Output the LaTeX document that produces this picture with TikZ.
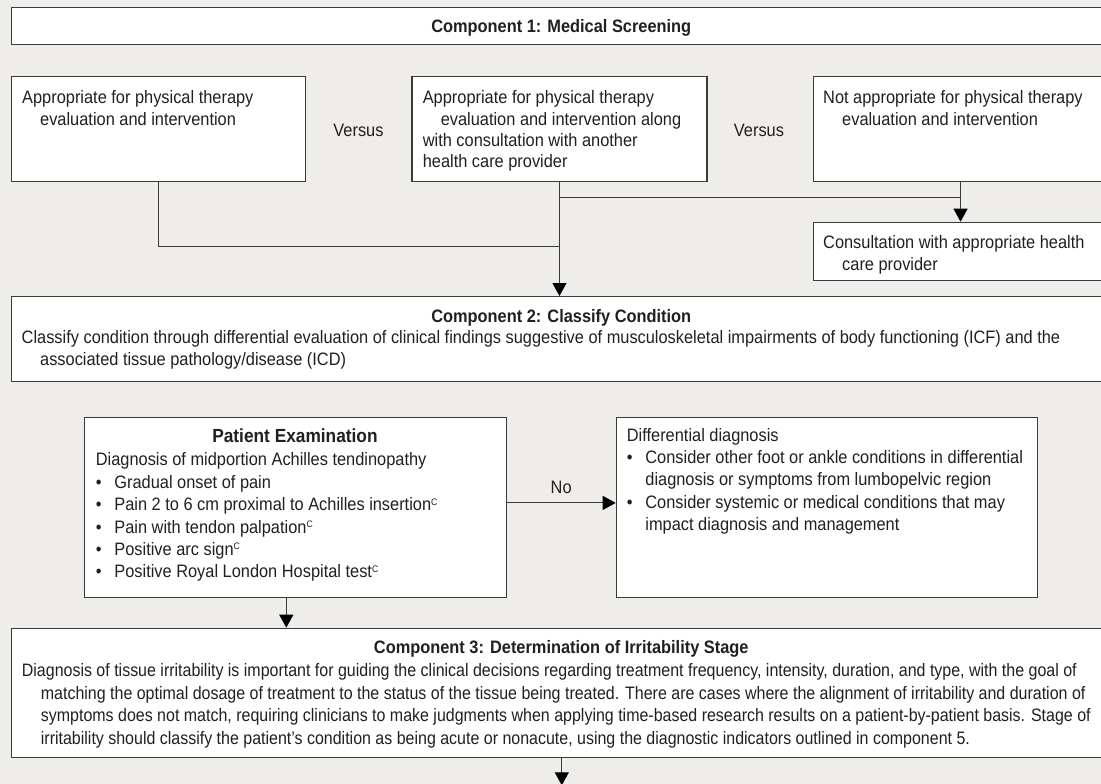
\documentclass[tikz,border=0pt]{standalone}
\usepackage{fontspec}
\setmainfont{Liberation Sans}[FakeStretch=0.91]
\newfontfamily\narrowsans{Liberation Sans}[FakeStretch=0.888]
\usetikzlibrary{arrows.meta}
\definecolor{bgcol}{RGB}{238,237,233}
\definecolor{linecol}{RGB}{58,58,58}
\definecolor{txtcol}{RGB}{35,31,32}
\newcommand{\blt}{\makebox[18.5pt][l]{\textbullet}}
\newcommand{\hind}{\hspace*{18pt}}
\newcommand{\supC}{\raisebox{5.5pt}{\fontsize{9.5}{9.5}\selectfont C}}

\begin{document}
\begin{tikzpicture}[x=1pt, y=-1pt,
  box/.style={draw=linecol, line width=1.1pt, fill=white, inner sep=0, anchor=north west},
  txt/.style={anchor=north west, inner sep=0, align=left, text=txtcol, font=\fontsize{18}{22.4}\selectfont},
  ttl/.style={anchor=base, inner sep=0, text=txtcol, font=\fontsize{18}{22}\selectfont\bfseries},
  ln/.style={draw=linecol, line width=1.1pt},
  arr/.style={ln, -{Triangle[length=13pt, width=14pt, color=black]}}]
\useasboundingbox (0,0) rectangle (1101,784);
\clip (0,0) rectangle (1101,784);
\fill[bgcol] (0,0) rectangle (1101,784);

% component 1
\node[box, minimum width=1101.5pt, minimum height=37pt] (comp1) at (10.5,7.3) {};
\node[ttl] (ttl1) at (561.25,33) {Component 1: Medical Screening};

\node[box, minimum width=294.5pt, minimum height=105.3pt] (scrA) at (10.5,75.7) {};
\node[box, minimum width=295pt, minimum height=105.3pt] (scrB) at (411.4,75.7) {};
\node[box, minimum width=294.4pt, minimum height=105.3pt] (scrC) at (812.8,75.7) {};
\node[box, minimum width=294.4pt, minimum height=58.3pt] (scrD) at (812.8,221.7) {};
\node[txt, font=\fontsize{18}{21.3}\selectfont] (txtA) at (22,90.5)
  {Appropriate for physical therapy\\\hind evaluation and intervention};
\node[txt, font=\fontsize{18}{21.3}\selectfont] (txtB) at (422.6,90.5)
  {Appropriate for physical therapy\\\hind evaluation and intervention along\\with consultation with another\\health care provider};
\node[txt, font=\fontsize{18}{21.3}\selectfont] (txtC) at (823,90.5)
  {Not appropriate for physical therapy\\\hspace*{19pt}evaluation and intervention};
\node[txt] (txtD) at (823,235)
  {Consultation with appropriate health\\\hspace*{19pt}care provider};
\node[text=txtcol, font=\fontsize{18}{22}\selectfont] (vs1) at (358.5,130) {Versus};
\node[text=txtcol, font=\fontsize{18}{22}\selectfont] (vs2) at (759,130) {Versus};

% component 2
\node[box, minimum width=1101.5pt, minimum height=85pt] (comp2) at (10.5,296) {};
\node[ttl] (ttl2) at (561.25,322.3) {Component 2: Classify Condition};
\node[txt, font=\fontsize{18}{22}\selectfont] (txt2) at (21.5,330.4)
  {Classify condition through differential evaluation of clinical findings suggestive of musculoskeletal impairments of body functioning (ICF) and the\\\hspace*{18.5pt}associated tissue pathology/disease (ICD)};

\node[box, minimum width=421.3pt, minimum height=180.5pt] (exam) at (84.3,416.7) {};
\node[box, minimum width=421.3pt, minimum height=180.5pt] (diff) at (615.7,416.7) {};
\node[ttl, font=\fontsize{19}{22}\selectfont\bfseries] (ttlE) at (294.95,442.7) {Patient Examination};
\node[txt] (txtE) at (95.7,452.6)
  {Diagnosis of midportion Achilles tendinopathy\\
   \blt Gradual onset of pain\\
   \blt Pain 2 to 6 cm proximal to Achilles insertion\supC\\
   \blt Pain with tendon palpation\supC\\
   \blt Positive arc sign\supC\\
   \blt Positive Royal London Hospital test\supC};
\node[txt, font=\fontsize{18}{22.3}\selectfont] (txtF) at (626.7,428)
  {Differential diagnosis\\
   \blt Consider other foot or ankle conditions in differential\\
   \hspace*{18.5pt}diagnosis or symptoms from lumbopelvic region\\
   \blt Consider systemic or medical conditions that may\\
   \hspace*{18.5pt}impact diagnosis and management};

% component 3
\node[box, minimum width=1101.5pt, minimum height=129.5pt] (comp3) at (10.5,627.7) {};
\node[ttl] (ttl3) at (561.25,653.3) {Component 3: Determination of Irritability Stage};
\node[txt, font=\fontsize{18}{22.4}\narrowsans] (txt3) at (21.7,663.6)
  {Diagnosis of tissue irritability is important for guiding the clinical decisions regarding treatment frequency, intensity, duration, and type, with the goal of\\
   \hspace*{19pt}matching the optimal dosage of treatment to the status of the tissue being treated. There are cases where the alignment of irritability and duration of\\
   \hspace*{19pt}symptoms does not match, requiring clinicians to make judgments when applying time-based research results on a patient-by-patient basis. Stage of\\
   \hspace*{19pt}irritability should classify the patient’s condition as being acute or nonacute, using the diagnostic indicators outlined in component 5.};
\coordinate (outC) at ([yshift=-27pt]comp3.south);

% connectors
\draw[ln] (scrA.south) |- ([yshift=-64pt]scrB.south);
\draw[arr] (scrB.south) -- (scrB.south |- comp2.north);
\draw[ln] ([yshift=-15.3pt]scrB.south) -- ([yshift=-15.3pt]scrC.south);
\draw[arr] (scrC.south) -- (scrD.north);
\draw[arr] ([yshift=4.6pt]exam.east) -- node[midway, above=9pt, inner sep=0, text=txtcol, font=\fontsize{18}{22}\selectfont] (lblNo) {No} ([yshift=4.6pt]diff.west);
\draw[arr] ([xshift=-9.2pt]exam.south) -- ([xshift=-9.2pt]exam.south |- comp3.north);
\draw[arr] (comp3.south) -- (outC);
\end{tikzpicture}
\end{document}
